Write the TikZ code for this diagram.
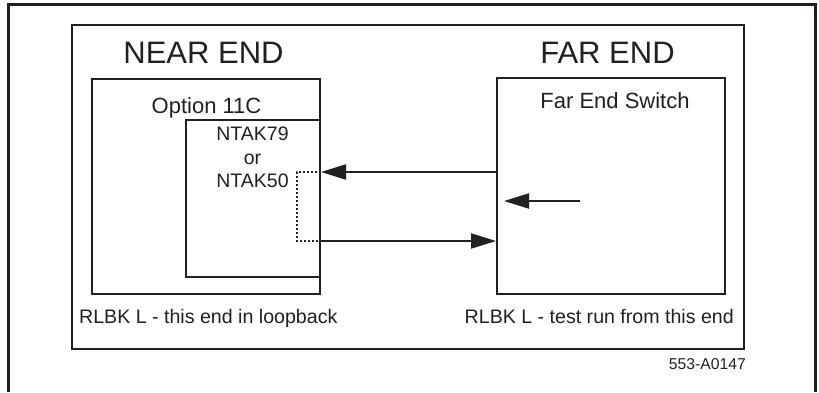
\documentclass[tikz,border=0pt]{standalone}
\usepackage{fontspec}
\setmainfont{Liberation Sans}
\usetikzlibrary{arrows.meta}
\definecolor{ink}{RGB}{35,31,32}

\tikzset{
  box/.style={draw=ink, line width=2pt, rectangle, inner sep=0pt},
  bigtxt/.style={anchor=base, inner sep=0pt, text=ink, font=\fontsize{31}{31}\selectfont},
  midtxt/.style={anchor=base, inner sep=0pt, text=ink, font=\fontsize{22}{22}\selectfont},
  rlbk/.style={inner sep=0pt, text=ink, font=\fontsize{19.6}{20}\selectfont},
  cardtxt/.style={anchor=base, inner sep=0pt, text=ink, font=\fontsize{19.5}{20}\selectfont},
  tinytxt/.style={anchor=base east, inner sep=0pt, text=ink, font=\fontsize{15.7}{16}\selectfont},
  sig/.style={draw=ink, line width=2pt, -{Triangle[length=25pt,width=15pt]}}
}

\begin{document}
\begin{tikzpicture}[x=1pt,y=-1pt]
\useasboundingbox (0,0) rectangle (819,392);

% outer frame, open at the bottom
\draw[ink, line width=3pt] (8,392) -- (8,4) -- (815.5,4) -- (815.5,392);

\node[box, minimum width=672pt, minimum height=324pt] (frame) at (408,187) {};
\node[box, minimum width=228pt, minimum height=215pt] (opt) at (206,186.5) {};
\node[box, minimum width=134pt, minimum height=157pt] (ntak) at (253,198.5) {};
\node[box, minimum width=228pt, minimum height=216pt] (fes) at (611,186) {};

\node[bigtxt] (near) at (203.5,63) {NEAR END};
\node[bigtxt] (far) at (607.5,63) {FAR END};
\node[midtxt] (optlbl) at (206.5,113) {Option 11C};
\node[midtxt] (feslbl) at (615,108) {Far End Switch};

\node[cardtxt] (ntak79) at (252.5,140) {NTAK79};
\node[cardtxt] (ntakor) at (252.5,164) {or};
\node[cardtxt] (ntak50) at (252.5,187) {NTAK50};

\node[rlbk, anchor=base west] (rlbkn) at (79,323) {RLBK L - this end in loopback};
\node[rlbk, anchor=base east] (rlbkf) at (734,323) {RLBK L - test run from this end};
\node[tinytxt] (figno) at (746,369) {553-A0147};

% signal path and loopback
\coordinate (lbtop) at (297,172);
\coordinate (lbbot) at (297,241);
\draw[sig] (fes.west |- lbtop) -- (ntak.east |- lbtop);
\draw[sig] (ntak.east |- lbbot) -- (fes.west |- lbbot);
\draw[ink, line width=2pt, dotted] (ntak.east |- lbtop) -- (lbtop) -- (lbbot) -- (ntak.east |- lbbot);

% test launched from the far end
\coordinate (testfrom) at (580,201);
\coordinate (testto) at (504,201);
\draw[sig] (testfrom) -- (testto);
\end{tikzpicture}
\end{document}
